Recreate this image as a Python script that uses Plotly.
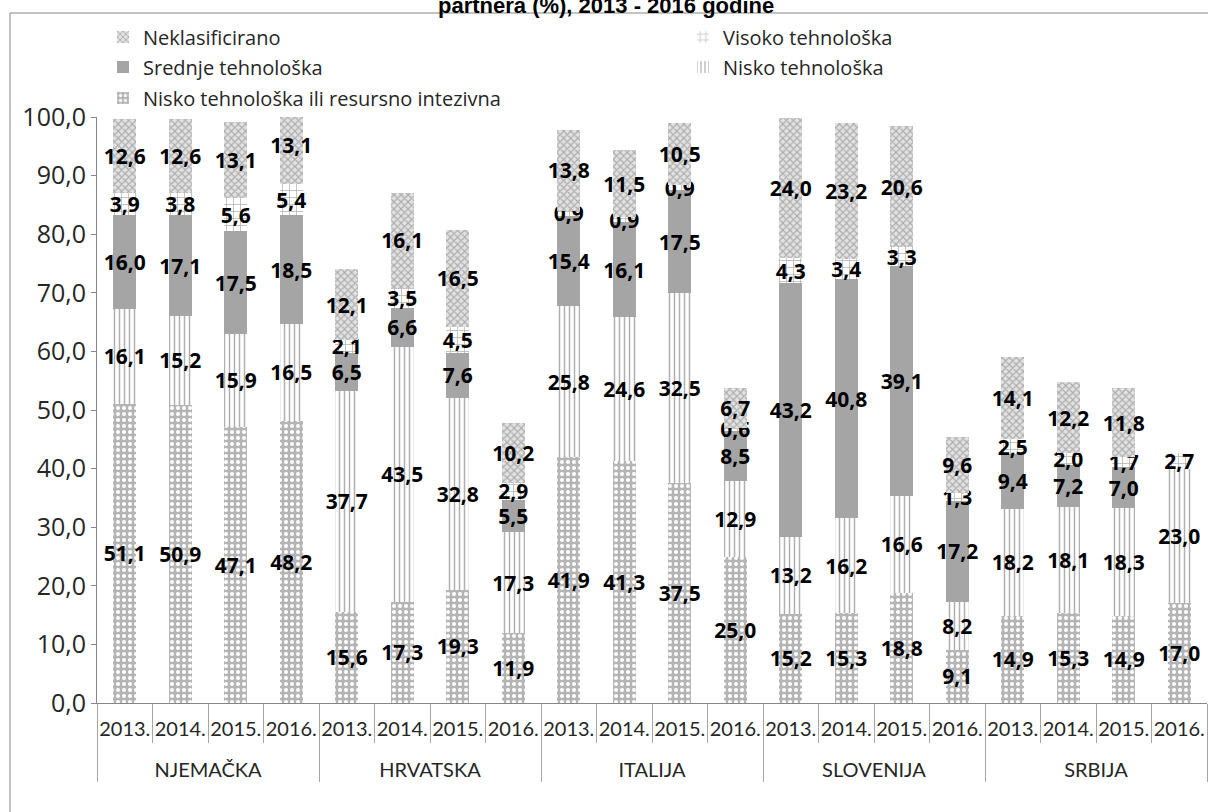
import plotly.graph_objects as go

groups = ["NJEMAČKA", "HRVATSKA", "ITALIJA", "SLOVENIJA", "SRBIJA"]
years = ["2013.", "2014.", "2015.", "2016."]

# values per group, per year (2013..2016)
resursno = [51.1, 50.9, 47.1, 48.2, 15.6, 17.3, 19.3, 11.9, 41.9, 41.3, 37.5, 25.0,
            15.2, 15.3, 18.8, 9.1, 14.9, 15.3, 14.9, 17.0]
nisko = [16.1, 15.2, 15.9, 16.5, 37.7, 43.5, 32.8, 17.3, 25.8, 24.6, 32.5, 12.9,
         13.2, 16.2, 16.6, 8.2, 18.2, 18.1, 18.3, 23.0]
srednje = [16.0, 17.1, 17.5, 18.5, 6.5, 6.6, 7.6, 5.5, 15.4, 16.1, 17.5, 8.5,
           43.2, 40.8, 39.1, 17.2, 9.4, 7.2, 7.0, None]
visoko = [3.9, 3.8, 5.6, 5.4, 2.1, 3.5, 4.5, 2.9, 0.9, 0.9, 0.9, 0.6,
          4.3, 3.4, 3.3, 1.3, 2.5, 2.0, 1.7, 2.7]
neklas = [12.6, 12.6, 13.1, 13.1, 12.1, 16.1, 16.5, 10.2, 13.8, 11.5, 10.5, 6.7,
          24.0, 23.2, 20.6, 9.6, 14.1, 12.2, 11.8, None]

year_disp = [y + "<br><span style='font-size:6px'> </span>" for y in years]
x = [[g for g in groups for _ in years], [y for _ in groups for y in year_disp]]

W, H = 1208, 812
ML, MR, MT, MB = 97, 1, 117, 109
PW, PH = W - ML - MR, H - MT - MB


def px_x(p):
    return (p - ML) / PW


def px_y(p):
    return (H - MB - p) / PH


def lab(vals):
    return ["" if v is None else f"{v:.1f}".replace(".", ",") for v in vals]


series = [
    ("Nisko tehnološka ili resursno intezivna", resursno,
     dict(color="#b3b3b3", pattern=dict(shape=".", fillmode="replace", bgcolor="#b5b5b5",
                                          fgcolor="white", size=6, solidity=0.35)),
     "legend5", (150, 98)),
    ("Nisko tehnološka", nisko,
     dict(color="#b3b3b3", pattern=dict(shape="|", fillmode="replace", bgcolor="white",
                                          fgcolor="#b0b0b0", size=5, solidity=0.3)),
     "legend4", (730, 67)),
    ("Srednje tehnološka", srednje, dict(color="#a5a5a5"), "legend3", (150, 67)),
    ("Visoko tehnološka", visoko,
     dict(color="#b3b3b3", pattern=dict(shape="+", fillmode="replace", bgcolor="white",
                                          fgcolor="#b0b0b0", size=7, solidity=0.2)),
     "legend2", (730, 37)),
    ("Neklasificirano", neklas,
     dict(color="#c0c0c0", pattern=dict(shape="x", fillmode="replace", bgcolor="#e2e2e2",
                                          fgcolor="#ababab", size=5, solidity=0.4)),
     "legend", (150, 37)),
]

LABEL_FONT = dict(family="Open Sans, Lato, sans-serif", size=21, color="black", weight="bold")
TEXT_FONT = "Lato, Open Sans, sans-serif"

fig = go.Figure()
legends = {}
for name, vals, marker, leg, (lx, ly) in series:
    fig.add_trace(go.Bar(
        name=name, x=x, y=vals, marker=dict(line=dict(width=0), **marker),
        text=lab(vals), textposition="inside", insidetextanchor="middle", textangle=0,
        constraintext="none", insidetextfont=LABEL_FONT,
        hoverinfo="skip", legend=leg,
    ))
    legends[leg] = dict(x=px_x(lx - 47), xanchor="left", y=px_y(ly), yanchor="middle",
                        orientation="v", bgcolor="rgba(0,0,0,0)",
                        font=dict(size=20, family="Open Sans, Lato, sans-serif", color="#262626"))

fig.update_layout(
    width=W, height=H,
    barmode="stack", bargap=0.58,
    separators=", ",
    paper_bgcolor="white", plot_bgcolor="white",
    margin=dict(l=ML, r=MR, t=MT, b=MB),
    uniformtext=dict(minsize=21, mode="show"),
    font=dict(family=TEXT_FONT, color="#262626"),
    showlegend=True,
    **legends,
)

fig.update_yaxes(range=[0, 100], tickvals=[0, 10, 20, 30, 40, 50, 60, 70, 80, 90, 100],
                 tickformat=".1f", showgrid=False, zeroline=False,
                 showline=True, linecolor="#868686", linewidth=1,
                 ticks="outside", ticklen=5, tickcolor="#868686",
                 tickfont=dict(size=25, family="Open Sans, Lato, sans-serif", color="#262626"))
fig.update_xaxes(type="multicategory", showline=True, linecolor="#868686", linewidth=1,
                 ticks="outside", tickson="boundaries", ticklen=39, tickcolor="#a6a6a6",
                 ticklabelstandoff=8, tickangle=0,
                 showdividers=True, dividercolor="#a6a6a6", dividerwidth=1,
                 tickfont=dict(size=20, family="Lato, Open Sans, sans-serif", color="#262626"))

# outer chart frame
fig.add_shape(type="rect", xref="paper", yref="paper",
              x0=px_x(10), x1=px_x(W + 20), y0=px_y(H + 20), y1=px_y(13),
              line=dict(color="#868686", width=1), fillcolor="rgba(0,0,0,0)", layer="below")

fig.add_annotation(text="<b>partnera (%), 2013 - 2016 godine</b>", xref="paper", yref="paper",
                   x=px_x(606), y=px_y(20), xanchor="center", yanchor="bottom",
                   showarrow=False, font=dict(family="Liberation Sans, Arial", size=22, color="black"))

fig.write_html("out.html", config={"displayModeBar": False},
               post_script="document.body.style.margin='0';")
